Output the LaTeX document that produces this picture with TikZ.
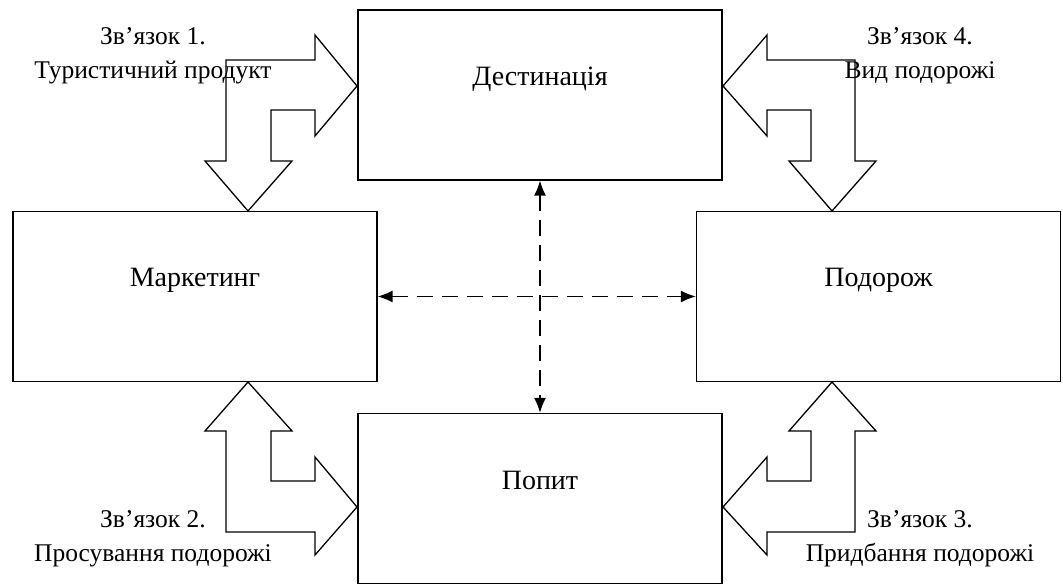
\documentclass[tikz,border=0pt]{standalone}
\usepackage{fontspec}
\setmainfont{Liberation Serif}
\usetikzlibrary{arrows.meta,positioning}

\begin{document}
\begin{tikzpicture}[x=1pt,y=-1pt,on grid,
    blk/.style={draw,line width=1.3pt,minimum width=364pt,minimum height=170pt,
      font=\fontsize{28}{34}\selectfont,text height=20pt,text depth=39pt},
    lbl/.style={font=\fontsize{25.5}{34}\selectfont,align=center,anchor=base,inner sep=0pt},
    flow/.style={line width=1.3pt,line join=miter},
    link/.style={line width=1.4pt,dash pattern=on 16pt off 9pt,
      {Latex[length=15pt,width=12pt]}-{Latex[length=15pt,width=12pt]}}]
    \useasboundingbox (0,0) rectangle (1063,585);

    \node[blk] (dest) at (540,95) {Дестинація};
    \node[blk] (mark) [below left=201.5pt and 345pt of dest] {Маркетинг};
    \node[blk] (trip) [below right=201.5pt and 338.5pt of dest] {Подорож};
    \node[blk] (dem)  [below=403.5pt of dest] {Попит};

    % dashed links
    \draw[link] (dest.south) -- (dem.north);
    \draw[link] (mark.east) -- (trip.west);

    % bent block arrows
    \draw[flow] (226,60) -- (315,60) -- (315,35) -- (357,86) -- (315,136) -- (315,110)
        -- (271,110) -- (271,161) -- (292,161) -- (248,211) -- (205,161) -- (226,161) -- cycle;
    \draw[flow] (855,60) -- (767,60) -- (767,35) -- (723,86) -- (767,136) -- (767,110)
        -- (811,110) -- (811,161) -- (789,161) -- (832,211) -- (876,161) -- (855,161) -- cycle;
    \draw[flow] (226,532) -- (315,532) -- (315,555) -- (357,507) -- (315,457) -- (315,481)
        -- (271,481) -- (271,431) -- (292,431) -- (248,382) -- (205,431) -- (226,431) -- cycle;
    \draw[flow] (855,532) -- (767,532) -- (767,555) -- (723,507) -- (767,457) -- (767,481)
        -- (811,481) -- (811,431) -- (789,431) -- (832,382) -- (876,431) -- (855,431) -- cycle;

    \node[lbl] (l1) at (153,79)  {Зв’язок 1.\\Туристичний продукт};
    \node[lbl] (l4) at (920,79)  {Зв’язок 4.\\Вид подорожі};
    \node[lbl] (l2) at (153,561) {Зв’язок 2.\\Просування подорожі};
    \node[lbl] (l3) at (920,561) {Зв’язок 3.\\Придбання подорожі};
\end{tikzpicture}
\end{document}
